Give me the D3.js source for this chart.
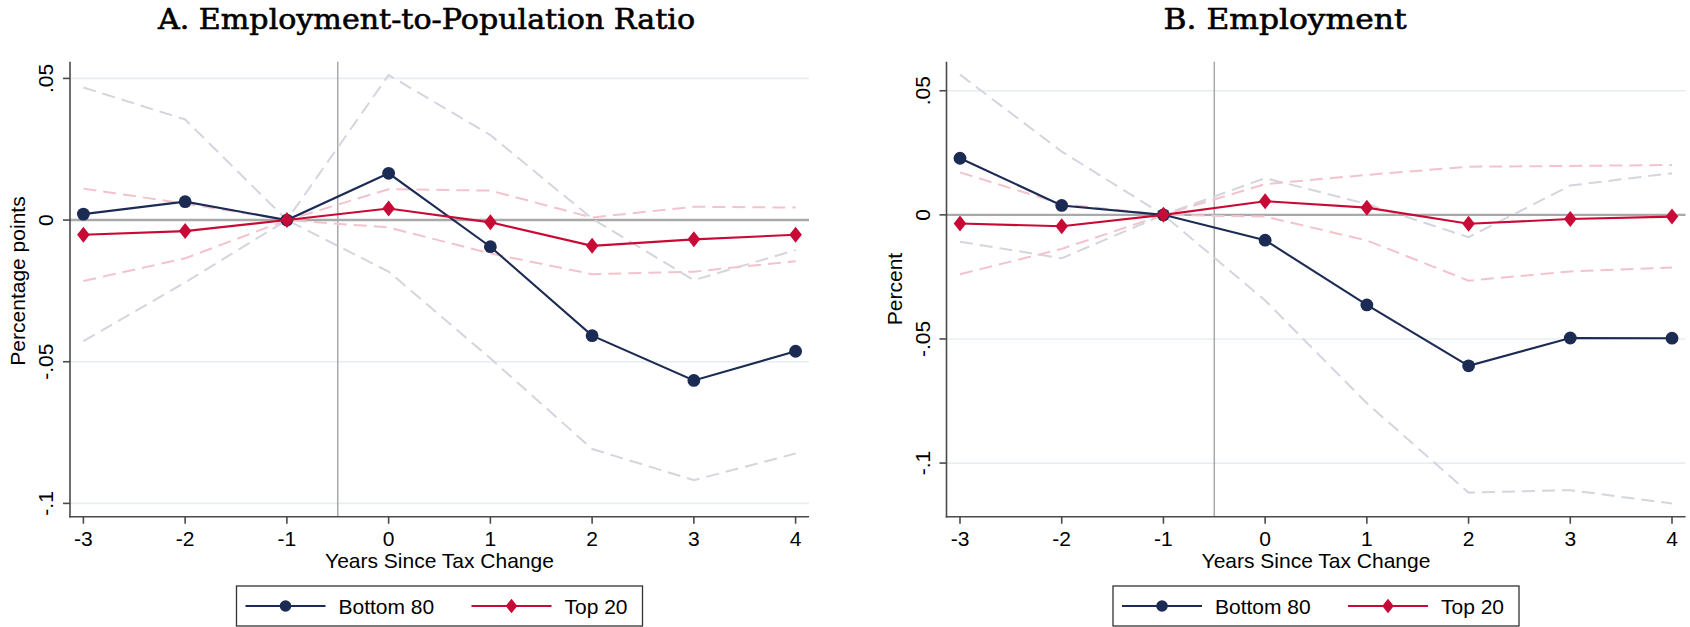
<!DOCTYPE html>
<html>
<head>
<meta charset="utf-8">
<script src="https://cdn.jsdelivr.net/npm/d3@7"></script>
<style>
  html, body { margin: 0; padding: 0; background: #fff; }
  svg { display: block; }
</style>
</head>
<body>
<svg id="chart" width="1690" height="627"></svg>
<script>
// ---------------- DATA ----------------
const years = [-3, -2, -1, 0, 1, 2, 3, 4];
const xTickLabels = ["-3", "-2", "-1", "0", "1", "2", "3", "4"];
const yTickValues = [0.05, 0, -0.05, -0.1];
const yTickLabels = [".05", "0", "-.05", "-.1"];
const seriesNames = ["Bottom 80", "Top 20"];

// Panel A: Employment-to-Population Ratio
const epopBottom80      = [0.0021, 0.0065, 0, 0.0165, -0.0094, -0.0408, -0.0566, -0.0463];
const epopTop20         = [-0.0052, -0.0039, 0, 0.0041, -0.0008, -0.0091, -0.0068, -0.0052];
const epopBottom80Upper = [0.0468, 0.0355, 0, 0.0512, 0.0300, 0.0005, -0.0212, -0.0106];
const epopBottom80Lower = [-0.0427, -0.0220, 0, -0.0182, -0.0488, -0.0808, -0.0918, -0.0824];
const epopTop20Upper    = [0.0111, 0.0058, 0, 0.0109, 0.0104, 0.0009, 0.0047, 0.0044];
const epopTop20Lower    = [-0.0215, -0.0135, 0, -0.0026, -0.0118, -0.0191, -0.0182, -0.0145];

// Panel B: Employment
const empBottom80      = [0.0228, 0.0038, 0, -0.0102, -0.0363, -0.0608, -0.0496, -0.0497];
const empTop20         = [-0.0035, -0.0046, 0, 0.0055, 0.0029, -0.0036, -0.0017, -0.0007];
const empBottom80Upper = [0.0565, 0.0255, 0, 0.0148, 0.0044, -0.0090, 0.0118, 0.0168];
const empBottom80Lower = [-0.0108, -0.0175, 0, -0.0345, -0.0759, -0.1119, -0.1109, -0.1163];
const empTop20Upper    = [0.0171, 0.0044, 0, 0.0124, 0.0161, 0.0194, 0.0197, 0.0201];
const empTop20Lower    = [-0.0239, -0.0137, 0, -0.0007, -0.0103, -0.0265, -0.0228, -0.0212];

// ---------------- STYLE ----------------
const NAVY = "#1c2b54";
const CRIMSON = "#c80a36";
const CI_GRAY = "#d3d5df";
const CI_PINK = "#f3c3cd";
const REF_GRAY = "#a9a9a9";
const GRID = "#e7eef1";
const AXIS = "#4a4a4a";
const SANS = "'Liberation Sans', Arial, Helvetica, sans-serif";
const SERIF = "'DejaVu Serif', 'Liberation Serif', serif";
const FS = 21;

const svg = d3.select("#chart");
svg.append("rect").attr("width", 1690).attr("height", 627).attr("fill", "#fff");

function diamondPath(hw, hh) {
  return `M0,${-hh}L${hw},0L0,${hh}L${-hw},0Z`;
}

function drawPanel(cfg) {
  const g = svg.append("g");
  const x = d3.scaleLinear().domain([-3, 4]).range([cfg.x0, cfg.x1]);
  const y = d3.scaleLinear().domain(cfg.yDomain).range([cfg.bottom, cfg.top]);

  // Title
  g.append("text")
    .attr("x", cfg.titleX).attr("y", 29)
    .attr("text-anchor", "middle")
    .attr("font-family", SERIF).attr("font-size", 28)
    .attr("textLength", cfg.titleW).attr("lengthAdjust", "spacingAndGlyphs")
    .attr("fill", "#000").attr("stroke", "#000").attr("stroke-width", 0.6)
    .text(cfg.title);

  // Gridlines (non-zero)
  g.selectAll(".grid").data(yTickValues.filter(v => v !== 0)).enter()
    .append("line")
    .attr("x1", cfg.left).attr("x2", cfg.right)
    .attr("y1", d => y(d)).attr("y2", d => y(d))
    .attr("stroke", GRID).attr("stroke-width", 1.6);

  // Zero line
  g.append("line")
    .attr("x1", cfg.left).attr("x2", cfg.right)
    .attr("y1", y(0)).attr("y2", y(0))
    .attr("stroke", REF_GRAY).attr("stroke-width", 2.4);

  // Vertical reference line at -0.5
  g.append("line")
    .attr("x1", x(-0.5)).attr("x2", x(-0.5))
    .attr("y1", cfg.top).attr("y2", cfg.bottom)
    .attr("stroke", REF_GRAY).attr("stroke-width", 1.5);

  const line = d3.line().x((d, i) => x(years[i])).y(d => y(d));

  // CI lines
  [[cfg.bUp, CI_GRAY], [cfg.bLo, CI_GRAY], [cfg.tUp, CI_PINK], [cfg.tLo, CI_PINK]].forEach(([arr, col]) => {
    g.append("path").datum(arr)
      .attr("d", line)
      .attr("fill", "none")
      .attr("stroke", col).attr("stroke-width", 2)
      .attr("stroke-dasharray", "13,7");
  });

  // Bottom 80
  g.append("path").datum(cfg.b).attr("d", line)
    .attr("fill", "none").attr("stroke", NAVY).attr("stroke-width", 2.1);
  g.selectAll(".bpt").data(cfg.b).enter().append("circle")
    .attr("cx", (d, i) => x(years[i])).attr("cy", d => y(d))
    .attr("r", 6.4).attr("fill", NAVY);

  // Top 20
  g.append("path").datum(cfg.t).attr("d", line)
    .attr("fill", "none").attr("stroke", CRIMSON).attr("stroke-width", 2.1);
  g.selectAll(".tpt").data(cfg.t).enter().append("path")
    .attr("d", diamondPath(6.3, 8))
    .attr("transform", (d, i) => `translate(${x(years[i])},${y(d)})`)
    .attr("fill", CRIMSON);

  // Y axis
  g.append("line")
    .attr("x1", cfg.left).attr("x2", cfg.left)
    .attr("y1", cfg.top).attr("y2", cfg.bottom + 0.8)
    .attr("stroke", AXIS).attr("stroke-width", 1.6);
  yTickValues.forEach((v, i) => {
    g.append("line")
      .attr("x1", cfg.left - 7).attr("x2", cfg.left)
      .attr("y1", y(v)).attr("y2", y(v))
      .attr("stroke", AXIS).attr("stroke-width", 1.6);
    g.append("text")
      .attr("transform", `translate(${cfg.left - 17},${y(v)}) rotate(-90)`)
      .attr("text-anchor", "middle")
      .attr("font-family", SANS).attr("font-size", FS).attr("fill", "#000")
      .text(yTickLabels[i]);
  });
  g.append("text")
    .attr("transform", `translate(${cfg.left - 45},${cfg.yTitleY}) rotate(-90)`)
    .attr("text-anchor", "middle")
    .attr("font-family", SANS).attr("font-size", FS).attr("fill", "#000")
    .text(cfg.yTitle);

  // X axis
  g.append("line")
    .attr("x1", cfg.left - 0.8).attr("x2", cfg.right)
    .attr("y1", cfg.bottom).attr("y2", cfg.bottom)
    .attr("stroke", AXIS).attr("stroke-width", 1.6);
  years.forEach((yr, i) => {
    g.append("line")
      .attr("x1", x(yr)).attr("x2", x(yr))
      .attr("y1", cfg.bottom).attr("y2", cfg.bottom + 7)
      .attr("stroke", AXIS).attr("stroke-width", 1.6);
    g.append("text")
      .attr("x", x(yr)).attr("y", cfg.bottom + 29)
      .attr("text-anchor", "middle")
      .attr("font-family", SANS).attr("font-size", FS).attr("fill", "#000")
      .text(xTickLabels[i]);
  });
  const cx = (cfg.left + cfg.right) / 2;
  g.append("text")
    .attr("x", cx).attr("y", cfg.bottom + 51)
    .attr("text-anchor", "middle")
    .attr("font-family", SANS).attr("font-size", FS).attr("fill", "#000")
    .text("Years Since Tax Change");

  // Legend
  const lw = 406, lh = 40;
  const lx = cx - lw / 2, ly = 586;
  const lg = g.append("g").attr("transform", `translate(${lx},${ly})`);
  lg.append("rect").attr("x", 0).attr("y", 0).attr("width", lw).attr("height", lh)
    .attr("fill", "#fff").attr("stroke", "#333").attr("stroke-width", 1.3);
  const items = [
    { name: seriesNames[0], color: NAVY, sym: "circle", sx: 9, tx: 102 },
    { name: seriesNames[1], color: CRIMSON, sym: "diamond", sx: 235, tx: 328 }
  ];
  items.forEach(it => {
    lg.append("line").attr("x1", it.sx).attr("x2", it.sx + 80)
      .attr("y1", 20).attr("y2", 20)
      .attr("stroke", it.color).attr("stroke-width", 2.1);
    if (it.sym === "circle") {
      lg.append("circle").attr("cx", it.sx + 40).attr("cy", 20).attr("r", 5.8).attr("fill", it.color);
    } else {
      lg.append("path").attr("d", diamondPath(5.8, 7.3))
        .attr("transform", `translate(${it.sx + 40},20)`).attr("fill", it.color);
    }
    lg.append("text").attr("x", it.tx).attr("y", 28)
      .attr("font-family", SANS).attr("font-size", FS).attr("fill", "#000")
      .text(it.name);
  });
}

drawPanel({
  title: "A. Employment-to-Population Ratio", titleX: 426.5, titleW: 537,
  left: 70, right: 809, x0: 83.4, x1: 795.6,
  top: 61.7, bottom: 516.7, yDomain: [-0.1047, 0.0559],
  yTitle: "Percentage points", yTitleY: 281,
  b: epopBottom80, t: epopTop20,
  bUp: epopBottom80Upper, bLo: epopBottom80Lower,
  tUp: epopTop20Upper, tLo: epopTop20Lower
});

drawPanel({
  title: "B. Employment", titleX: 1285, titleW: 243,
  left: 946.5, right: 1685.5, x0: 960, x1: 1672,
  top: 61.7, bottom: 516.7, yDomain: [-0.1216, 0.0617],
  yTitle: "Percent", yTitleY: 289,
  b: empBottom80, t: empTop20,
  bUp: empBottom80Upper, bLo: empBottom80Lower,
  tUp: empTop20Upper, tLo: empTop20Lower
});
</script>
</body>
</html>
